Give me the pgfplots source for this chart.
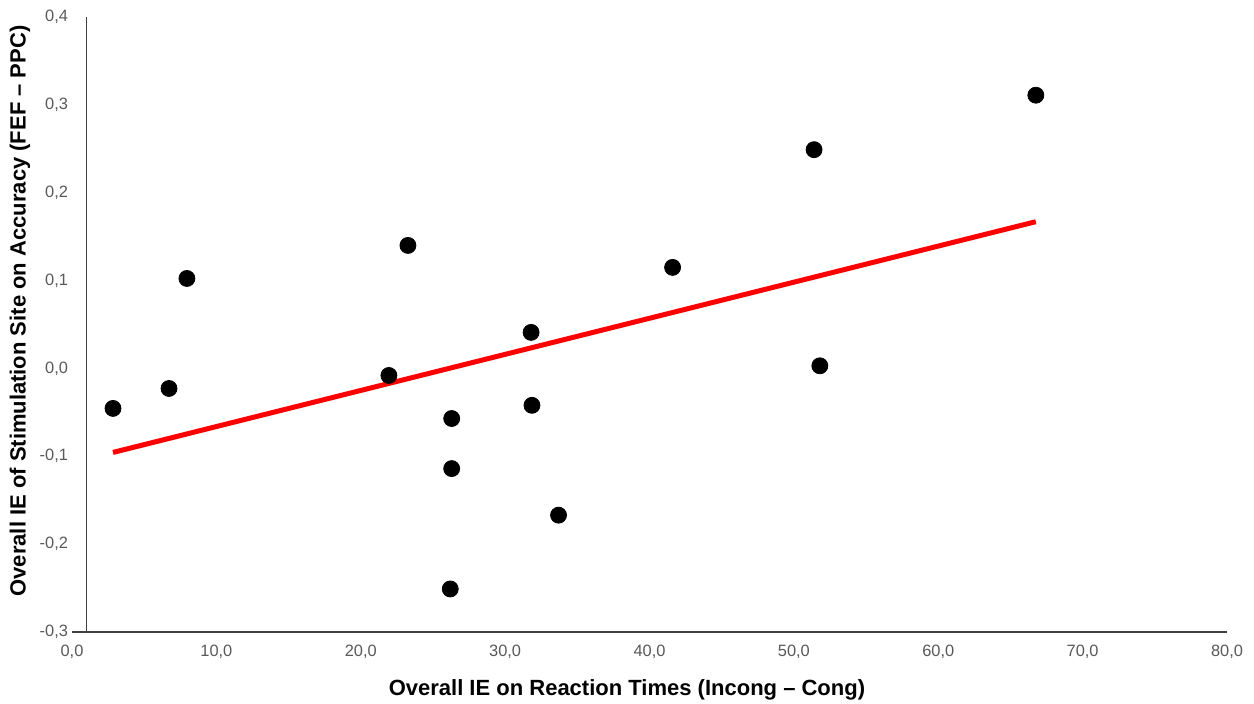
\documentclass[border=0pt]{standalone}
\usepackage{pgfplots}
\pgfplotsset{compat=1.18}
\usepackage{fontspec}
\setmainfont{Liberation Sans}
\definecolor{ticklab}{HTML}{595959}
\definecolor{axline}{HTML}{404040}
\begin{document}
\begin{tikzpicture}
\begin{axis}[
  name=ax,
  scale only axis, width=577.5pt, height=307.5pt,
  xmin=0, xmax=80, ymin=-0.3, ymax=0.4,
  axis lines=left,
  axis line style={-, draw=axline, line width=0.75pt},
  y axis line style={draw=none},
  major tick length=0pt,
  xtick={0,10,20,30,40,50,60,70,80},
  ytick={-0.3,-0.2,-0.1,0,0.1,0.2,0.3,0.4},
  /pgf/number format/.cd, fixed, fixed zerofill, precision=1, use comma, assume math mode=true,
  /pgfplots/.cd,
  ticklabel style={font=\fontsize{8.2}{10}\selectfont, text=ticklab},
  xticklabel style={yshift=-3pt},
  yticklabel style={xshift=1.5pt},
  clip=false,
  xlabel={Overall IE on Reaction Times (Incong – Cong)},
  ylabel={Overall IE of Stimulation Site on Accuracy (FEF – PPC)},
  label style={font=\fontsize{11}{13}\selectfont\bfseries},
  xlabel style={at={(axis description cs:0.4805,-0.0943)}, anchor=center},
  ylabel style={at={(axis description cs:-0.045,0.522)}, anchor=center, rotate=0},
]
\addplot[only marks, mark=*, mark size=4pt, color=black] coordinates {
(2.84,-0.0455)
(6.72,-0.0228)
(7.96,0.1024)
(21.95,-0.008)
(23.27,0.140)
(26.3,-0.057)
(26.3,-0.114)
(26.2,-0.251)
(31.8,0.041)
(31.86,-0.042)
(33.7,-0.167)
(41.6,0.115)
(51.4,0.249)
(51.8,0.003)
(66.76,0.311)
};
\addplot[red, line width=2.5pt, no marks] coordinates {(2.84,-0.0956) (66.76,0.167)};
\draw[axline, line width=0.75pt] (axis cs:1,-0.3) -- (axis cs:1,0.4);
\end{axis}
\pgfresetboundingbox
\path ([shift={(-36pt,-35.5pt)}]ax.south west) rectangle ([shift={(591pt,316pt)}]ax.south west);
\end{tikzpicture}
\end{document}
